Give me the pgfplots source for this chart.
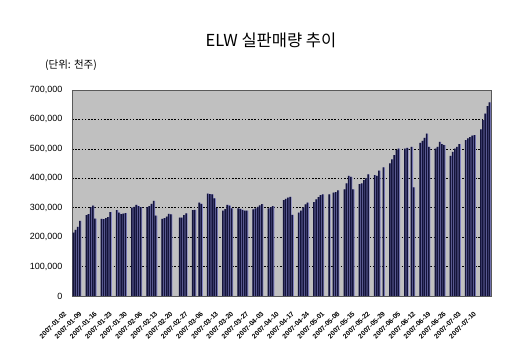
\documentclass[border=0pt]{standalone}
\usepackage{fontspec}
\setmainfont{Liberation Sans}
\newfontfamily\kr{Noto Sans CJK KR}
\usepackage{pgfplots}
\usepackage{pgfplotstable}
\pgfplotsset{compat=1.18}
\definecolor{bg}{HTML}{C0C0C0}
\definecolor{barfill}{HTML}{14143A}
\definecolor{baredge}{HTML}{8080C0}
\pgfplotstableread{
d v
0 215000
1 225000
2 235000
3 255000
6 275000
7 278000
8 302000
9 307000
10 263000
13 262000
14 261000
15 265000
16 268000
17 285000
20 292000
21 283000
22 278000
23 280000
24 282000
27 300000
28 303000
29 310000
30 305000
31 302000
34 302000
35 305000
36 313000
37 323000
38 273000
41 262000
42 265000
43 270000
44 279000
45 277000
49 266000
50 266000
51 275000
52 281000
55 292000
56 293000
58 317000
59 313000
62 348000
63 346000
64 345000
65 332000
66 299000
69 290000
70 295000
71 310000
72 307000
73 298000
76 298000
77 296000
78 293000
79 290000
80 290000
83 294000
84 298000
85 303000
86 308000
87 312000
90 298000
91 302000
92 305000
97 326000
98 330000
99 334000
100 337000
101 276000
104 283000
105 290000
106 300000
107 311000
108 317000
111 319000
112 328000
113 336000
114 343000
115 345000
118 345000
120 351000
121 353000
122 359000
125 362000
126 383000
127 408000
128 405000
129 362000
132 380000
133 383000
134 394000
135 400000
136 413000
139 411000
140 408000
141 426000
143 437000
146 451000
147 464000
148 479000
149 496000
150 501000
153 501000
154 503000
156 507000
157 369000
160 520000
161 527000
162 537000
163 552000
164 507000
167 501000
168 507000
169 524000
170 516000
171 513000
174 476000
175 490000
176 501000
177 507000
178 516000
181 530000
182 536000
183 540000
184 545000
185 547000
188 566000
189 598000
190 620000
191 645000
192 658000
}\sales
\begin{document}
\begin{tikzpicture}[x=1pt,y=1pt]
\path[use as bounding box, fill=white] (-72,-59) rectangle (448,296);
\begin{axis}[at={(0,0)}, anchor=south west, scale only axis,
  width=419pt, height=206pt,
  xmin=-0.7, xmax=192.6, ymin=0, ymax=700000,
  axis background/.style={fill=bg},
  axis line style={draw=gray!70!black, line width=0.5pt},
  ytick={0,100000,200000,300000,400000,500000,600000,700000},
  scaled y ticks=false,
  yticklabel style={/pgf/number format/fixed, /pgf/number format/1000 sep={,}, /pgf/number format/assume math mode=true, font=\fontsize{9}{10}\selectfont, xshift=-6pt},
  ymajorgrids,
  grid style={black, dash pattern=on 1.6pt off 1.6pt, line width=0.6pt},
  major tick length=0pt,
  xtick={0,7,...,189},
  xticklabels={2007-01-02,2007-01-09,2007-01-16,2007-01-23,2007-01-30,2007-02-06,2007-02-13,2007-02-20,2007-02-27,2007-03-06,2007-03-13,2007-03-20,2007-03-27,2007-04-03,2007-04-10,2007-04-17,2007-04-24,2007-05-01,2007-05-08,2007-05-15,2007-05-22,2007-05-29,2007-06-05,2007-06-12,2007-06-19,2007-06-26,2007-07-03,2007-07-10},
  xticklabel style={xshift=-10pt, yshift=-15pt, rotate=45, anchor=north east, font=\fontsize{6.8}{8}\selectfont\bfseries, inner sep=0pt},
]
\addplot[ybar, bar width=2.1pt, bar shift=0.35pt, fill=baredge, draw=none] table[x=d, y=v] {\sales};
\addplot[ybar, bar width=1.5pt, bar shift=-0.2pt, fill=barfill, draw=none] table[x=d, y=v] {\sales};
\end{axis}
\node[font=\kr\fontsize{16.5}{18}\selectfont] at (199,256) {ELW 실판매량 추이};
\node[font=\kr\fontsize{10.5}{12}\selectfont] at (-1,231) {(단위: 천주)};
\end{tikzpicture}
\end{document}
